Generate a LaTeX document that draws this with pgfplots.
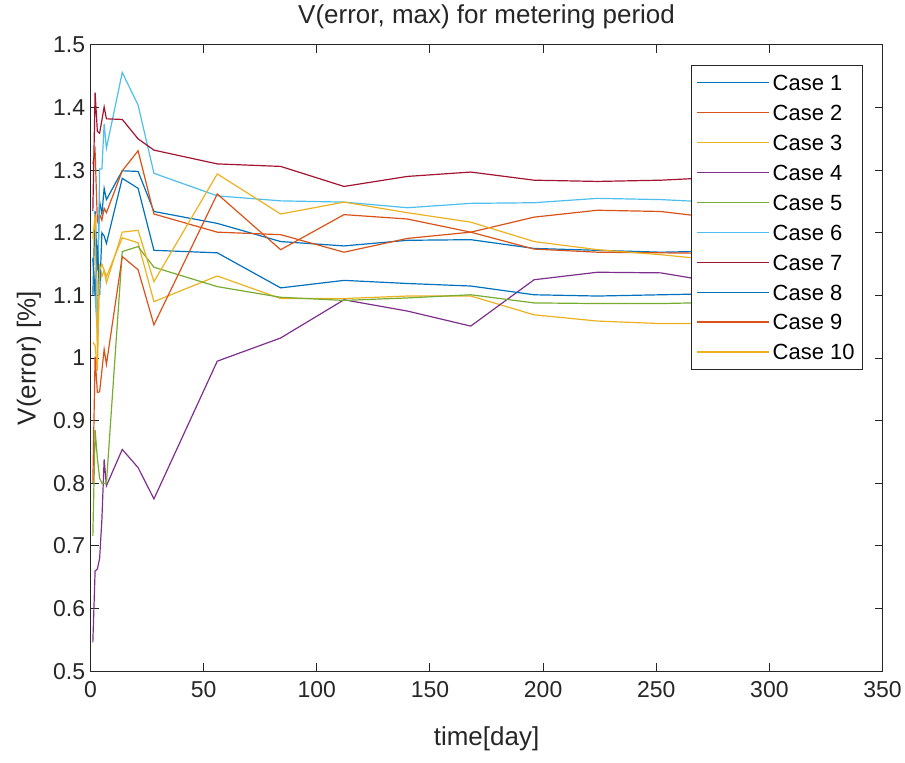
\documentclass[border=0pt]{standalone}
\usepackage{fontspec}
\setmainfont{Liberation Sans}
\usepackage{pgfplots}
\usepackage{pgfplotstable}
\pgfplotsset{compat=1.18}

\definecolor{c1}{RGB}{0,114,189}
\definecolor{c2}{RGB}{217,83,25}
\definecolor{c3}{RGB}{237,177,32}
\definecolor{c4}{RGB}{126,47,142}
\definecolor{c5}{RGB}{119,172,48}
\definecolor{c6}{RGB}{77,190,238}
\definecolor{c7}{RGB}{162,20,47}
\definecolor{axgray}{RGB}{38,38,38}

% V(error, max) in units of 1e-5
\pgfplotstableread{
x   a     b     c     d     e     f     g     h     i     j
1   1.100 1.310 1.025 0.546 0.716 1.160 1.235 1.160 0.800 1.190
2   1.235 1.330 1.020 0.660 0.885 1.100 1.424 1.100 1.002 1.230
3   1.140 1.218 0.980 0.663 0.840 1.040 1.362 1.180 0.945 1.000
4   1.250 1.229 1.150 0.680 0.808 1.302 1.359 1.100 0.946 1.140
5   1.230 1.220 1.130 0.742 0.800 1.302 1.380 1.200 0.980 1.150
6   1.271 1.239 1.140 0.838 0.800 1.374 1.401 1.195 1.014 1.140
7   1.253 1.232 1.130 0.796 0.800 1.335 1.382 1.183 0.990 1.120
14  1.299 1.299 1.192 0.854 1.170 1.456 1.381 1.287 1.162 1.201
21  1.298 1.331 1.184 0.825 1.178 1.404 1.350 1.271 1.141 1.204
28  1.234 1.230 1.090 0.775 1.145 1.295 1.332 1.172 1.053 1.122
56  1.215 1.201 1.131 0.995 1.114 1.259 1.310 1.168 1.262 1.294
84  1.186 1.197 1.095 1.032 1.097 1.251 1.306 1.112 1.173 1.230
112 1.179 1.169 1.095 1.093 1.092 1.249 1.274 1.124 1.229 1.249
140 1.188 1.191 1.099 1.075 1.096 1.240 1.290 1.119 1.222 1.232
168 1.189 1.201 1.099 1.051 1.101 1.247 1.297 1.115 1.201 1.217
196 1.175 1.225 1.069 1.125 1.088 1.248 1.284 1.101 1.174 1.186
224 1.172 1.236 1.059 1.137 1.087 1.255 1.282 1.099 1.169 1.173
252 1.169 1.234 1.055 1.136 1.087 1.253 1.284 1.101 1.168 1.165
280 1.171 1.222 1.055 1.119 1.089 1.248 1.289 1.103 1.167 1.155
}\vdata

\begin{document}
\begin{tikzpicture}
\begin{axis}[
    scale only axis,
    width=793bp, height=627bp,
    xmin=0, xmax=350, ymin=0.5, ymax=1.5,
    xtick={0,50,...,350},
    ytick={0.5,0.6,...,1.51},
    axis line style={axgray, line width=1bp},
    tick style={axgray, line width=1bp},
    tick align=inside,
    major tick length=8bp,
    /pgf/number format/assume math mode=true,
    ticklabel style={font=\fontsize{23bp}{27bp}\selectfont, text=axgray},
    xticklabel style={yshift=-7bp},
    yticklabel style={xshift=-2bp},
    title={V(error, max) for metering period},
    title style={font=\fontsize{26bp}{30bp}\selectfont, inner sep=0pt, text=axgray,
        anchor=base, at={([yshift=15bp]axis description cs:0.5,1)}},
    xlabel={time[day]},
    xlabel style={font=\fontsize{26bp}{30bp}\selectfont, inner sep=0pt, text=axgray,
        anchor=base, at={([yshift=-74bp]axis description cs:0.5,0)}},
    ylabel={V(error) [\%]},
    ylabel style={font=\fontsize{26bp}{30bp}\selectfont, inner sep=0pt, text=axgray,
        anchor=base, at={([xshift=-55bp]axis description cs:0,0.5)}},
    every axis plot/.append style={line width=1.2bp},
    legend cell align=left,
    legend image code/.code={\draw[#1, line width=1.2bp] (0bp,7.9bp) -- (72bp,7.9bp);},
    legend style={
        at={([xshift=-20bp,yshift=-20bp]axis description cs:1,1)},
        anchor=north east, outer sep=0pt,
        draw=axgray, line width=0.8bp, fill=white,
        font=\fontsize{22bp}{26bp}\selectfont,
        inner xsep=4.5bp, inner ysep=2.5bp,
        nodes={inner ysep=0pt, inner xsep=3.5bp, outer sep=0pt, text height=22.9bp, text depth=7.1bp, anchor=base west},
        /tikz/every even column/.append style={column sep=0bp},
    },
]
\addplot[c1] table[x=x, y=a] {\vdata};
\addplot[c2] table[x=x, y=b] {\vdata};
\addplot[c3] table[x=x, y=c] {\vdata};
\addplot[c4] table[x=x, y=d] {\vdata};
\addplot[c5] table[x=x, y=e] {\vdata};
\addplot[c6] table[x=x, y=f] {\vdata};
\addplot[c7] table[x=x, y=g] {\vdata};
\addplot[c1] table[x=x, y=h] {\vdata};
\addplot[c2] table[x=x, y=i] {\vdata};
\addplot[c3] table[x=x, y=j] {\vdata};
\legend{Case 1,Case 2,Case 3,Case 4,Case 5,Case 6,Case 7,Case 8,Case 9,Case 10}
\node[anchor=base west, inner sep=0pt, font=\fontsize{20bp}{24bp}\selectfont, text=axgray]
    at ([xshift=2bp,yshift=6bp]axis description cs:0,1) {×10\textsuperscript{-5}};
\end{axis}
\path ([shift={(-90.7bp,-92bp)}]current axis.south west) rectangle ([shift={(21bp,45bp)}]current axis.north east);
\end{tikzpicture}
\end{document}
